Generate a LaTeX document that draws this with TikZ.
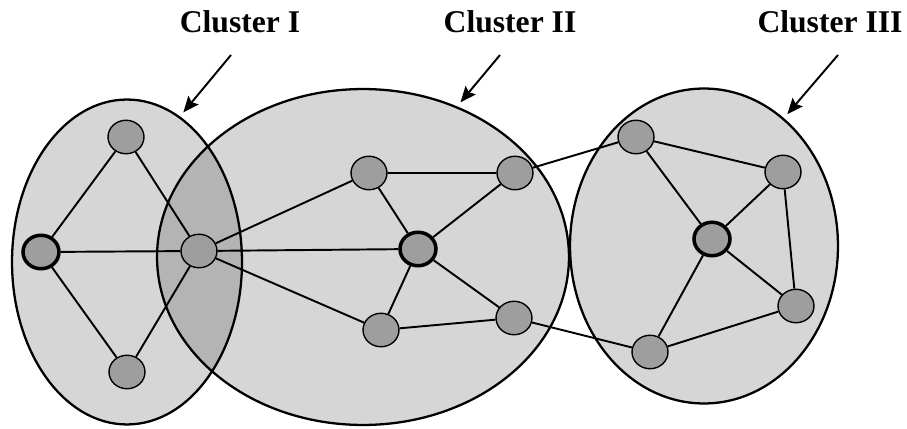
\documentclass[tikz,border=0pt]{standalone}
\usepackage{fontspec}
\setmainfont{Liberation Serif}
\usetikzlibrary{shapes.geometric,arrows.meta}
\begin{document}
\begin{tikzpicture}[x=0.02cm,y=-0.02cm,
    cluster/.style={ellipse,draw,line width=1.3pt,fill=black,fill opacity=0.16,inner sep=0pt},
    pt/.style={ellipse,draw,line width=0.8pt,fill=black!38,minimum width=0.72cm,minimum height=0.67cm,inner sep=0pt},
    head/.style={pt,line width=2pt},
    lbl/.style={anchor=base,font=\bfseries\fontsize{18}{20}\selectfont},
    pointer/.style={-{Stealth[length=9pt,width=7.5pt,inset=1.5pt]},line width=1.1pt,shorten >=3pt}]
  \useasboundingbox (0,0) rectangle (907,429);
  % clusters
  \node[cluster,minimum width=4.6cm,minimum height=6.5cm] (k1) at (127,262) {};
  \node[cluster,minimum width=8.24cm,minimum height=6.72cm] (k2) at (363,257) {};
  \node[cluster,minimum width=5.36cm,minimum height=6.3cm] (k3) at (704,246) {};
  % labels and pointers
  \node[lbl] (l1) at (240,33) {Cluster I};
  \node[lbl] (l2) at (510,33) {Cluster II};
  \node[lbl] (l3) at (830,33) {Cluster III};
  \coordinate (s1) at (231,55);
  \coordinate (s2) at (500,55);
  \coordinate (s3) at (838,55);
  \draw[pointer] (s1) -- (k1.70);
  \draw[pointer] (s2) -- (k2.58);
  \draw[pointer] (s3) -- (k3.58);
  % cluster I
  \node[pt] (a1) at (126,137) {};
  \node[head] (a2) at (41,252) {};
  \node[pt] (a3) at (199,251) {};
  \node[pt] (a4) at (127,372) {};
  % cluster II
  \node[pt] (b1) at (369,173) {};
  \node[pt] (b2) at (515,173) {};
  \node[head] (b3) at (418,249) {};
  \node[pt] (b4) at (381,330) {};
  \node[pt] (b5) at (514,318) {};
  % cluster III
  \node[pt] (c1) at (636,137) {};
  \node[pt] (c2) at (783,172) {};
  \node[head] (c3) at (712,239) {};
  \node[pt] (c4) at (796,306) {};
  \node[pt] (c5) at (650,352) {};
  % links
  \draw[line width=1.1pt] (a1) -- (a2) (a1) -- (a3) (a2) -- (a3) (a2) -- (a4) (a4) -- (a3);
  \draw[line width=1.1pt] (a3) -- (b1) (a3) -- (b3) (a3) -- (b4);
  \draw[line width=1.1pt] (b1) -- (b2) (b1) -- (b3) (b2) -- (b3) (b3) -- (b5) (b3) -- (b4) (b4) -- (b5);
  \draw[line width=1.1pt] (b2) -- (c1) (b5) -- (c5);
  \draw[line width=1.1pt] (c1) -- (c2) (c1) -- (c3) (c2) -- (c3) (c2) -- (c4) (c3) -- (c4) (c3) -- (c5) (c5) -- (c4);
\end{tikzpicture}
\end{document}
